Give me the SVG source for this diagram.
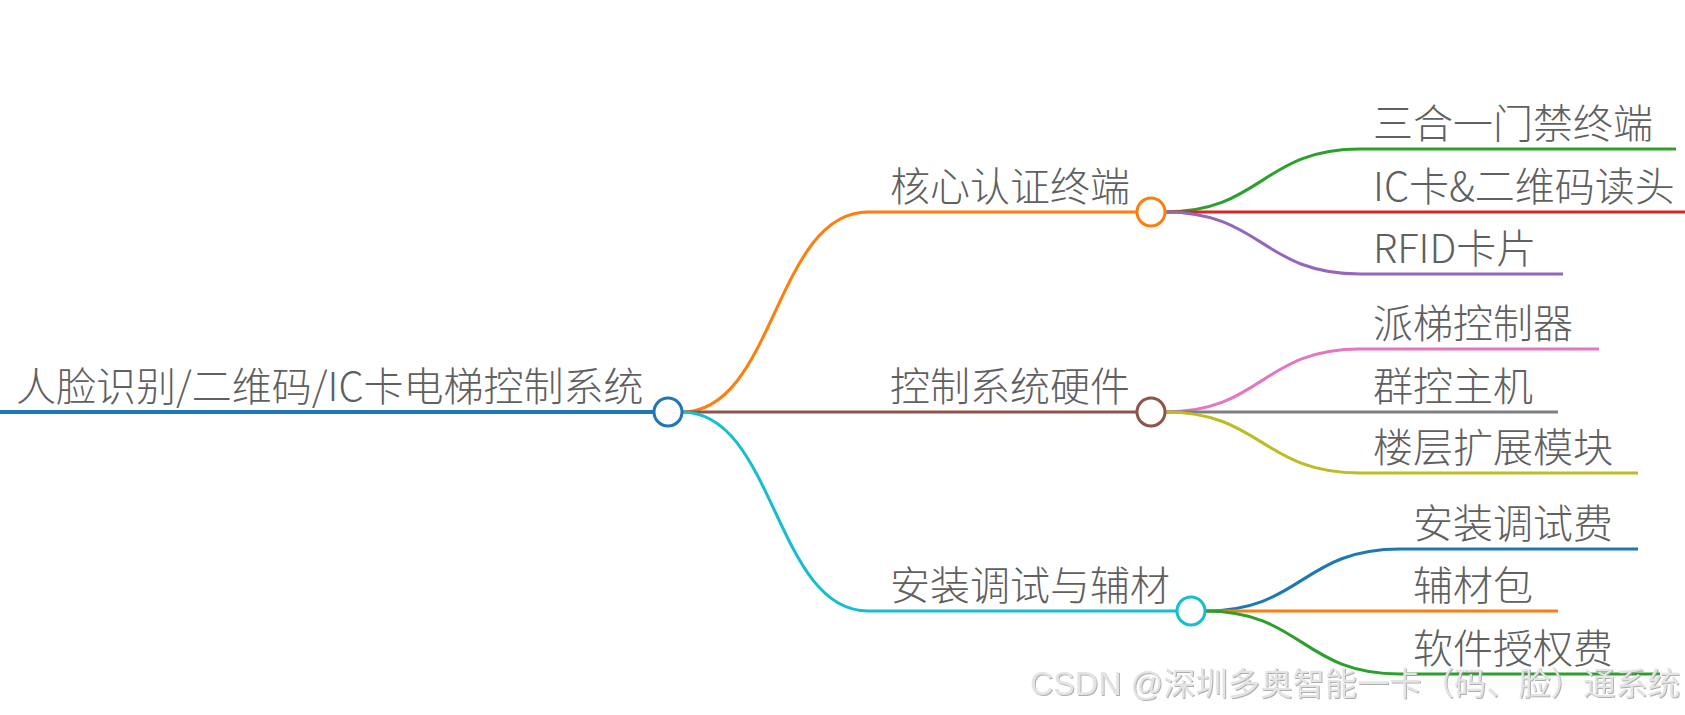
<svg xmlns="http://www.w3.org/2000/svg" width="1685" height="715" viewBox="0 0 1685 715">
<defs>
<style>
.t{font-family:"Noto Sans CJK SC","Noto Sans",sans-serif;font-size:40px;font-weight:300;fill:#606060}
.l{fill:none;stroke-width:3;stroke-linecap:butt}
.c{fill:#fff;stroke-width:3}
.wm{font-family:"Liberation Sans","Noto Sans CJK SC",sans-serif;font-size:32.3px;fill:#e4e4e4}
</style>
<filter id="sh" x="-5%" y="-20%" width="110%" height="140%">
<feDropShadow dx="1" dy="1" stdDeviation="0.6" flood-color="#9a9a9a" flood-opacity="0.8"/>
</filter>
</defs>
<rect width="1685" height="715" fill="#fff"/>
<g id="connectors">
<path class="l" stroke="#ff7f0e" d="M682 412 C775 412,775 212,868 212 L1151 212"/>
<path class="l" stroke="#8c564b" d="M682 412 L1151 412"/>
<path class="l" stroke="#17becf" d="M682 412 C775 412,775 611,868 611 L1191 611"/>
<path class="l" stroke="#2ca02c" d="M1165 212 C1262 212,1262 149,1360 149 L1676 149"/>
<path class="l" stroke="#d62728" d="M1165 212 L1685 212"/>
<path class="l" stroke="#9467bd" d="M1165 212 C1262 212,1262 274,1360 274 L1563 274"/>
<path class="l" stroke="#e377c2" d="M1165 412 C1262 412,1262 349,1360 349 L1599 349"/>
<path class="l" stroke="#7f7f7f" d="M1165 412 L1558 412"/>
<path class="l" stroke="#bcbd22" d="M1165 412 C1262 412,1262 473,1360 473 L1638 473"/>
<path class="l" stroke="#1f77b4" d="M1205 611 C1302 611,1302 549,1400 549 L1638 549"/>
<path class="l" stroke="#ff7f0e" d="M1205 611 L1558 611"/>
<path class="l" stroke="#2ca02c" d="M1205 611 C1302 611,1302 674,1400 674 L1660 674"/>
</g>
<g id="root">
<line x1="0" y1="412" x2="668" y2="412" stroke="#1f77b4" stroke-width="4"/>
<text class="t" x="16" y="401">人脸识别/二维码/IC卡电梯控制系统</text>
<circle class="c" cx="668" cy="412" r="14" stroke="#1f77b4"/>
</g>
<g id="n1">
<text class="t" x="890" y="201">核心认证终端</text>
<circle class="c" cx="1151" cy="212" r="14" stroke="#ff7f0e"/>
</g>
<g id="n2">
<text class="t" x="890" y="401">控制系统硬件</text>
<circle class="c" cx="1151" cy="412" r="14" stroke="#8c564b"/>
</g>
<g id="n3">
<text class="t" x="890" y="600">安装调试与辅材</text>
<circle class="c" cx="1191" cy="611" r="14" stroke="#17becf"/>
</g>
<g id="n1a"><text class="t" x="1373" y="138">三合一门禁终端</text></g>
<g id="n1b"><text class="t" x="1373" y="201">IC卡&amp;二维码读头</text></g>
<g id="n1c"><text class="t" x="1373" y="263">RFID卡片</text></g>
<g id="n2a"><text class="t" x="1373" y="338">派梯控制器</text></g>
<g id="n2b"><text class="t" x="1373" y="401">群控主机</text></g>
<g id="n2c"><text class="t" x="1373" y="462">楼层扩展模块</text></g>
<g id="n3a"><text class="t" x="1413" y="538">安装调试费</text></g>
<g id="n3b"><text class="t" x="1413" y="600">辅材包</text></g>
<g id="n3c"><text class="t" x="1413" y="663">软件授权费</text></g>
<text class="wm" x="1030" y="695" filter="url(#sh)">CSDN @深圳多奥智能一卡（码、脸）通系统</text>
</svg>
